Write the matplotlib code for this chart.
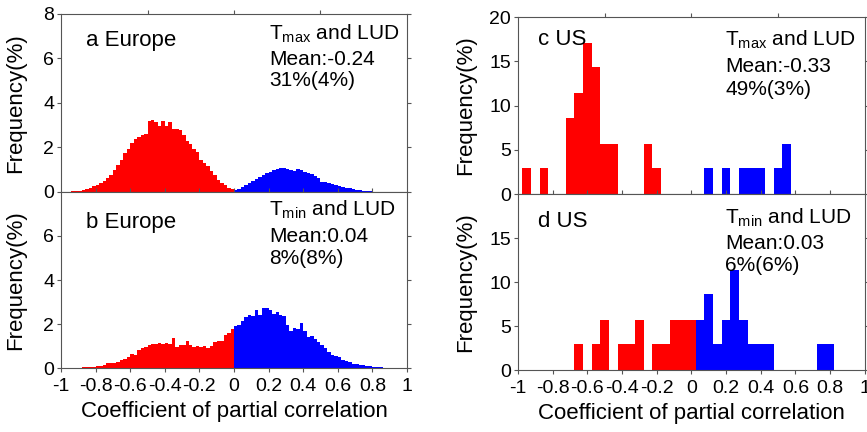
import numpy as np
import matplotlib
matplotlib.use("Agg")
import matplotlib.pyplot as plt

plt.rcParams['font.family'] = ['Liberation Sans', 'DejaVu Sans']
plt.rcParams['mathtext.default'] = 'regular'
plt.rcParams['axes.unicode_minus'] = False

# Europe: frequency (%) per 0.02 bin, red bins are the negative side, blue the positive side
eu_bin = 0.02
eu_a_red_start = -0.94
eu_a_red = [0.03, 0.04, 0.05, 0.08, 0.12, 0.2, 0.25, 0.3, 0.4, 0.5, 0.65, 0.75, 1.0, 1.2,
            1.45, 1.75, 1.95, 2.2, 2.4, 2.45, 2.55, 2.6, 3.2, 3.25, 3.15, 2.95, 3.2, 2.95,
            3.15, 2.85, 2.85, 2.8, 2.55, 2.3, 2.15, 1.95, 1.8, 1.45, 1.3, 1.15, 0.95, 0.75,
            0.55, 0.4, 0.3, 0.2, 0.12]
eu_a_blue = [0.07, 0.15, 0.22, 0.3, 0.4, 0.5, 0.57, 0.67, 0.76, 0.87, 0.91, 0.97, 1.02,
             1.1, 1.09, 1.02, 0.99, 0.94, 1.02, 0.97, 0.9, 0.87, 0.8, 0.72, 0.64, 0.46,
             0.43, 0.4, 0.36, 0.31, 0.27, 0.24, 0.2, 0.16, 0.13, 0.1, 0.07, 0.06, 0.05,
             0.03, 0.02]
eu_b_red_start = -0.90
eu_b_red = [0.02, 0.03, 0.04, 0.05, 0.05, 0.07, 0.1, 0.15, 0.21, 0.24, 0.25, 0.27, 0.35,
            0.4, 0.52, 0.64, 0.58, 0.82, 0.9, 0.97, 1.03, 1.08, 1.1, 1.12, 1.11, 1.12,
            1.08, 1.36, 0.95, 1.06, 1.05, 1.25, 1.04, 0.97, 1.0, 0.95, 1.0, 0.93, 1.02,
            1.2, 1.23, 1.25, 1.5, 1.58, 1.76]
eu_b_blue = [1.9, 1.97, 2.12, 2.32, 2.4, 2.35, 2.65, 2.4, 2.72, 2.72, 2.62, 2.44, 2.53,
             2.4, 2.37, 1.95, 1.67, 1.8, 1.76, 2.03, 1.7, 1.41, 1.47, 1.3, 1.18, 1.05,
             0.89, 0.74, 0.61, 0.56, 0.48, 0.38, 0.33, 0.26, 0.2, 0.17, 0.14, 0.12, 0.09,
             0.08, 0.06, 0.04, 0.03]

# US: bin centres and frequency (%) for 0.05 bins
us_bin = 0.05
us_c_red_x = [-0.95, -0.85, -0.70, -0.65, -0.60, -0.55, -0.50, -0.45, -0.25, -0.20]
us_c_red = [2.9, 2.9, 8.6, 11.4, 17.1, 14.3, 5.7, 5.7, 5.7, 2.9]
us_c_blue_x = [0.10, 0.20, 0.30, 0.35, 0.40, 0.50, 0.55]
us_c_blue = [2.9, 2.9, 2.9, 2.9, 2.9, 2.9, 5.7]
us_d_red_x = [-0.65, -0.55, -0.50, -0.40, -0.35, -0.30, -0.20, -0.15, -0.10, -0.05, 0.0]
us_d_red = [2.9, 2.9, 5.7, 2.9, 2.9, 5.7, 2.9, 2.9, 5.7, 5.7, 5.7]
us_d_blue_x = [0.05, 0.10, 0.15, 0.20, 0.25, 0.30, 0.35, 0.40, 0.45, 0.75, 0.80]
us_d_blue = [5.7, 8.6, 2.9, 5.7, 11.4, 5.7, 2.9, 2.9, 2.9, 2.9, 2.9]

panel_labels = ['a Europe', 'b Europe', 'c US', 'd US']
panel_notes = [
    ['T$_{max}$ and LUD', 'Mean:-0.24', '31%(4%)'],
    ['T$_{min}$ and LUD', 'Mean:0.04', '8%(8%)'],
    ['T$_{max}$ and LUD', 'Mean:-0.33', '49%(3%)'],
    ['T$_{min}$ and LUD', 'Mean:0.03', '6%(6%)'],
]
xticks = [-1, -0.8, -0.6, -0.4, -0.2, 0, 0.2, 0.4, 0.6, 0.8, 1]
xticklabels = ['-1', '-0.8', '-0.6', '-0.4', '-0.2', '0', '0.2', '0.4', '0.6', '0.8', '1']

RED = '#ff0000'
BLUE = '#0000ff'
GRID = '#555555'

fig = plt.figure(figsize=(8.67, 4.32), dpi=100)
ax_a = fig.add_axes([0.0704, 0.5556, 0.399, 0.412])
ax_b = fig.add_axes([0.0704, 0.1481, 0.399, 0.4075])
ax_c = fig.add_axes([0.5975, 0.5509, 0.400, 0.4097])
ax_d = fig.add_axes([0.5975, 0.1435, 0.400, 0.4074])


def eu_hist(ax, red_start, red, blue):
    red_left = red_start + eu_bin * np.arange(len(red))
    blue_left = eu_bin * np.arange(len(blue))
    ax.bar(red_left, red, width=eu_bin, align='edge', color=RED, linewidth=0)
    ax.bar(blue_left, blue, width=eu_bin, align='edge', color=BLUE, linewidth=0)


def us_hist(ax, rx, rv, bx, bv):
    ax.bar(rx, rv, width=us_bin, color=RED, linewidth=0)
    ax.bar(bx, bv, width=us_bin, color=BLUE, linewidth=0)


eu_hist(ax_a, eu_a_red_start, eu_a_red, eu_a_blue)
eu_hist(ax_b, eu_b_red_start, eu_b_red, eu_b_blue)
us_hist(ax_c, us_c_red_x, us_c_red, us_c_blue_x, us_c_blue)
us_hist(ax_d, us_d_red_x, us_d_red, us_d_blue_x, us_d_blue)

# axis styling
for ax in [ax_a, ax_b, ax_c, ax_d]:
    ax.set_xlim(-1, 1)
    for sp in ax.spines.values():
        sp.set_color(GRID)
        sp.set_linewidth(0.8)
    ax.tick_params(axis='y', direction='out', length=3, width=0.8, left=True, right=True,
                   color=GRID, labelsize=14, pad=2)

for ax in [ax_a, ax_b]:
    ax.set_ylim(0, 8)
for ax in [ax_c, ax_d]:
    ax.set_ylim(0, 20)
ax_a.set_yticks([0, 2, 4, 6, 8])
ax_b.set_yticks([0, 2, 4, 6])
ax_c.set_yticks([0, 5, 10, 15, 20])
ax_d.set_yticks([0, 5, 10, 15])

# upper panels: inward ticks at the shared edge, a few ticks on top
for ax in [ax_a, ax_c]:
    ax.set_xticks(xticks[1:-1])
    ax.tick_params(axis='x', direction='in', length=3, width=0.8, color=GRID,
                   labelbottom=False)
    top = ax.secondary_xaxis('top')
    top.set_xticks([-0.5, 0, 0.5])
    top.tick_params(direction='out', length=3, width=0.8, color=GRID, labeltop=False)
    top.spines['top'].set_visible(False)

# lower panels: labelled bottom axis
for ax in [ax_b, ax_d]:
    ax.set_xticks(xticks, xticklabels)
    ax.tick_params(axis='x', direction='out', length=3, width=0.8, color=GRID,
                   labelsize=14, pad=4)
    ax.set_xlabel('Coefficient of partial correlation', fontsize=16)
    ax.xaxis.set_label_coords(0.5, -0.19)

for ax in [ax_a, ax_b]:
    ax.set_ylabel('Frequency(%)', fontsize=16)
    ax.yaxis.set_label_coords(-0.1, 0.5)
for ax in [ax_c, ax_d]:
    ax.set_ylabel('Frequency(%)', fontsize=16)
    ax.yaxis.set_label_coords(-0.12, 0.5)

# panel titles and notes
label_pos = [(0.072, 0.822), (0.072, 0.794), (0.059, 0.842), (0.059, 0.814)]
note_pos = [(0.602, [0.854, 0.712, 0.596]), (0.602, [0.864, 0.718, 0.591]),
            (0.598, [0.838, 0.691, 0.559]), (0.598, [0.833, 0.686, 0.563])]
for ax, lab, lp, notes, (nx, nys) in zip([ax_a, ax_b, ax_c, ax_d], panel_labels, label_pos,
                                        panel_notes, note_pos):
    ax.text(lp[0], lp[1], lab, transform=ax.transAxes, fontsize=16, va='baseline')
    for txt, ny in zip(notes, nys):
        ax.text(nx, ny, txt, transform=ax.transAxes, fontsize=15, va='baseline')

fig.savefig('out.png', dpi=100)
